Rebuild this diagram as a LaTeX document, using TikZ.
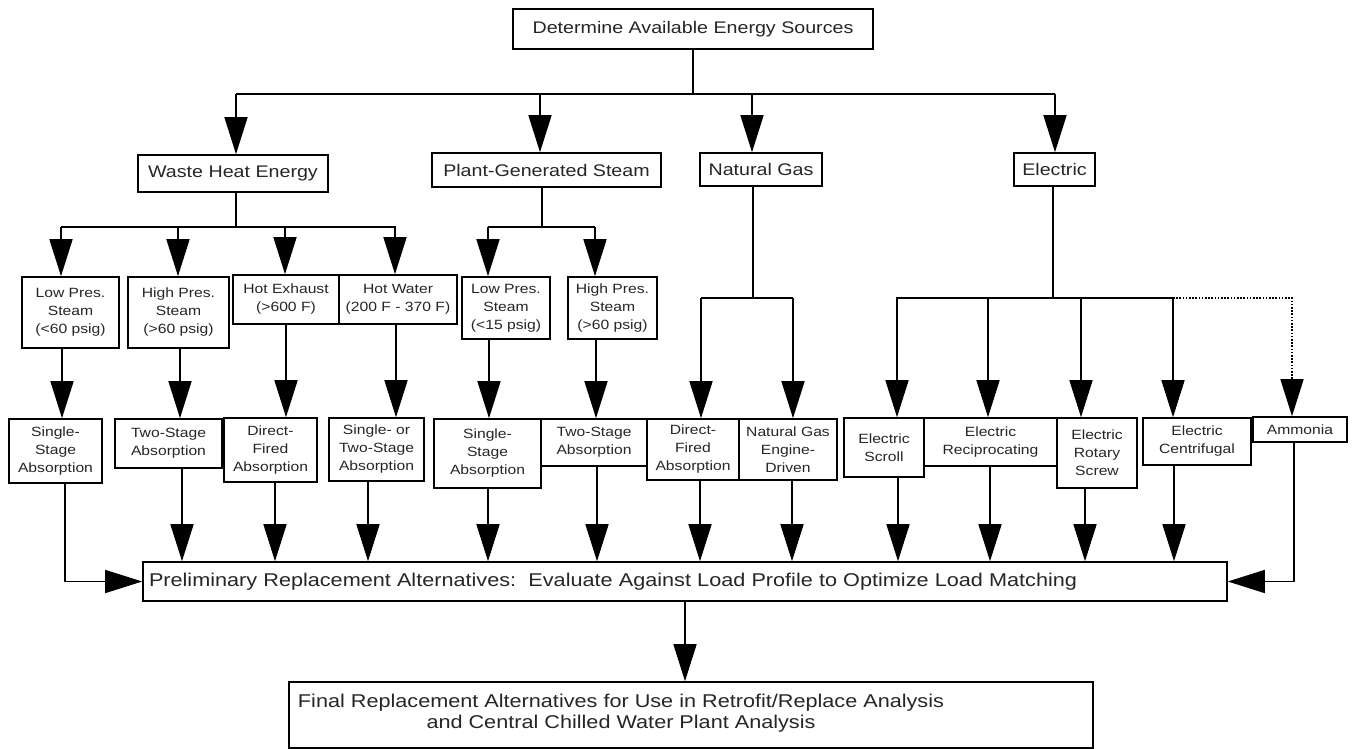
\documentclass[tikz,border=0pt]{standalone}
\usepackage{fontspec}
\setmainfont{Liberation Sans}[FakeStretch=1.17]
\usetikzlibrary{arrows.meta}
\newcommand\mkbox[7][]{\node[box,#1,minimum width={(#5)-(#3)},minimum height={(#6)-(#4)}] (#2) at ({((#3)+(#5))/2},{((#4)+(#6))/2}) {#7};}
\begin{document}
\begin{tikzpicture}[x=1pt,y=-1pt,line width=1.6pt,
  box/.style={draw,line width=1.6pt,inner sep=0pt,align=center,text=black!85},
  sm/.style={font=\fontsize{13.4}{18}\selectfont},
  md/.style={font=\fontsize{16.8}{20}\selectfont},
  lg/.style={font=\fontsize{18.5}{21}\selectfont},
  arr/.style={-{Triangle[width=23pt,length=37pt]}},
  dotline/.style={dash pattern=on 1.6pt off 1.6pt}]
\useasboundingbox (0,0) rectangle (1354,749);
\fill[white] (0,0) rectangle (1354,749);

% top and level 1
\mkbox[md]{top}{513}{9}{873}{49}{Determine Available Energy Sources}
\mkbox[md]{waste}{138}{155}{328}{192}{Waste Heat Energy}
\mkbox[md]{plant}{432}{153}{661}{187}{Plant-Generated Steam}
\mkbox[md]{ng}{700}{153}{822}{186}{Natural Gas}
\mkbox[md]{elec}{1014}{153}{1095}{186}{Electric}

% level 2
\mkbox[sm]{lp1}{22}{277}{119}{348}{Low Pres.\\Steam\\(<60 psig)}
\mkbox[sm]{hp1}{128}{277}{229}{348}{High Pres.\\Steam\\(>60 psig)}
\mkbox[sm]{hx}{233}{275}{339}{324}{Hot Exhaust\\(>600 F)}
\mkbox[sm]{hw}{339}{275}{457}{324}{Hot Water\\(200 F - 370 F)}
\mkbox[sm]{lp2}{462}{277}{550}{339}{Low Pres.\\Steam\\(<15 psig)}
\mkbox[sm]{hp2}{568}{277}{657}{339}{High Pres.\\Steam\\(>60 psig)}

% level 3
\mkbox[sm]{ss1}{9}{419}{102}{483}{Single-\\Stage\\Absorption}
\mkbox[sm]{ts1}{115}{419}{222}{468}{Two-Stage\\Absorption}
\mkbox[sm]{df1}{224}{418}{317}{482}{Direct-\\Fired\\Absorption}
\mkbox[sm]{sts}{329}{418}{424}{481}{Single- or\\Two-Stage\\Absorption}
\mkbox[sm]{ss2}{434}{419}{541}{488}{Single-\\Stage\\Absorption}
\mkbox[sm]{ts2}{541}{419}{647}{466}{Two-Stage\\Absorption}
\mkbox[sm]{df2}{647}{419}{739}{480}{Direct-\\Fired\\Absorption}
\mkbox[sm]{nge}{739}{419}{837}{480}{Natural Gas\\Engine-\\Driven}
\mkbox[sm]{sc}{844}{418}{924}{477}{Electric\\Scroll}
\mkbox[sm]{rec}{924}{418}{1057}{466}{Electric\\Reciprocating}
\mkbox[sm]{rot}{1057}{418}{1137}{488}{Electric\\Rotary\\Screw}
\mkbox[sm]{cen}{1143}{418}{1251}{465}{Electric\\Centrifugal}
\mkbox[sm]{amm}{1253}{417}{1347}{442}{Ammonia}

% preliminary and final
\node[box,lg,minimum width=1084,minimum height=39,text width=1072,align=left] (prelim) at (685,581.5) {Preliminary Replacement Alternatives:\ \ Evaluate Against Load Profile to Optimize Load Matching};
\node[box,minimum width=804,minimum height=66] (final) at (691,715) {};
\node[lg,align=center,text=black!85] (finaltext) at (621,713) {Final Replacement Alternatives for Use in Retrofit/Replace Analysis\\and Central Chilled Water Plant Analysis};

% top connectors
\draw (top.south) -- (top.south |- 0,94);
\draw (236,94) -- (1055,94);
\draw[arr] (236,94) -- (236,0 |- waste.north);
\draw[arr] (540,94) -- (540,0 |- plant.north);
\draw[arr] (752,94) -- (752,0 |- ng.north);
\draw[arr] (1055,94) -- (1055,0 |- elec.north);

% waste heat branch
\draw (236,0 |- waste.south) -- (236,227);
\draw (61,227) -- (396,227);
\draw[arr] (61,227) -- (61,0 |- lp1.north);
\draw[arr] (178,227) -- (178,0 |- hp1.north);
\draw[arr] (285,227) -- (285,0 |- hx.north);
\draw[arr] (395,227) -- (395,0 |- hw.north);

% plant steam branch
\draw (542,0 |- plant.south) -- (542,227);
\draw (488,227) -- (595,227);
\draw[arr] (488,227) -- (488,0 |- lp2.north);
\draw[arr] (595,227) -- (595,0 |- hp2.north);

% natural gas branch
\draw (753,0 |- ng.south) -- (753,298);
\draw (701,298) -- (793,298);
\draw[arr] (701,298) -- (701,0 |- df2.north);
\draw[arr] (793,298) -- (793,0 |- nge.north);

% electric branch
\draw (1053,0 |- elec.south) -- (1053,298);
\draw (896,298) -- (1173,298);
\draw[arr] (897,298) -- (897,0 |- sc.north);
\draw[arr] (988,298) -- (988,0 |- rec.north);
\draw[arr] (1081,298) -- (1081,0 |- rot.north);
\draw[arr] (1173,298) -- (1173,0 |- cen.north);
\draw[arr,dotline] (1173,298) -| (1292,0 |- amm.north);

% level 2 to level 3
\draw[arr] (62,0 |- lp1.south) -- (62,0 |- ss1.north);
\draw[arr] (180,0 |- hp1.south) -- (180,0 |- ts1.north);
\draw[arr] (286,0 |- hx.south) -- (286,0 |- df1.north);
\draw[arr] (396,0 |- hw.south) -- (396,0 |- sts.north);
\draw[arr] (489,0 |- lp2.south) -- (489,0 |- ss2.north);
\draw[arr] (596,0 |- hp2.south) -- (596,0 |- ts2.north);

% level 3 to preliminary
\foreach \x/\n in {182/ts1,275/df1,368/sts,488/ss2,597/ts2,700/df2,792/nge,898/sc,990/rec,1085/rot,1174/cen}
  \draw[arr] (\x,0 |- \n.south) -- (\x,0 |- prelim.north);
\draw[arr] (65,0 |- ss1.south) |- (prelim.west);
\draw[arr] (1294,0 |- amm.south) |- (prelim.east);

% preliminary to final
\draw[arr] (prelim.south) -- (prelim.south |- final.north);
\end{tikzpicture}
\end{document}
